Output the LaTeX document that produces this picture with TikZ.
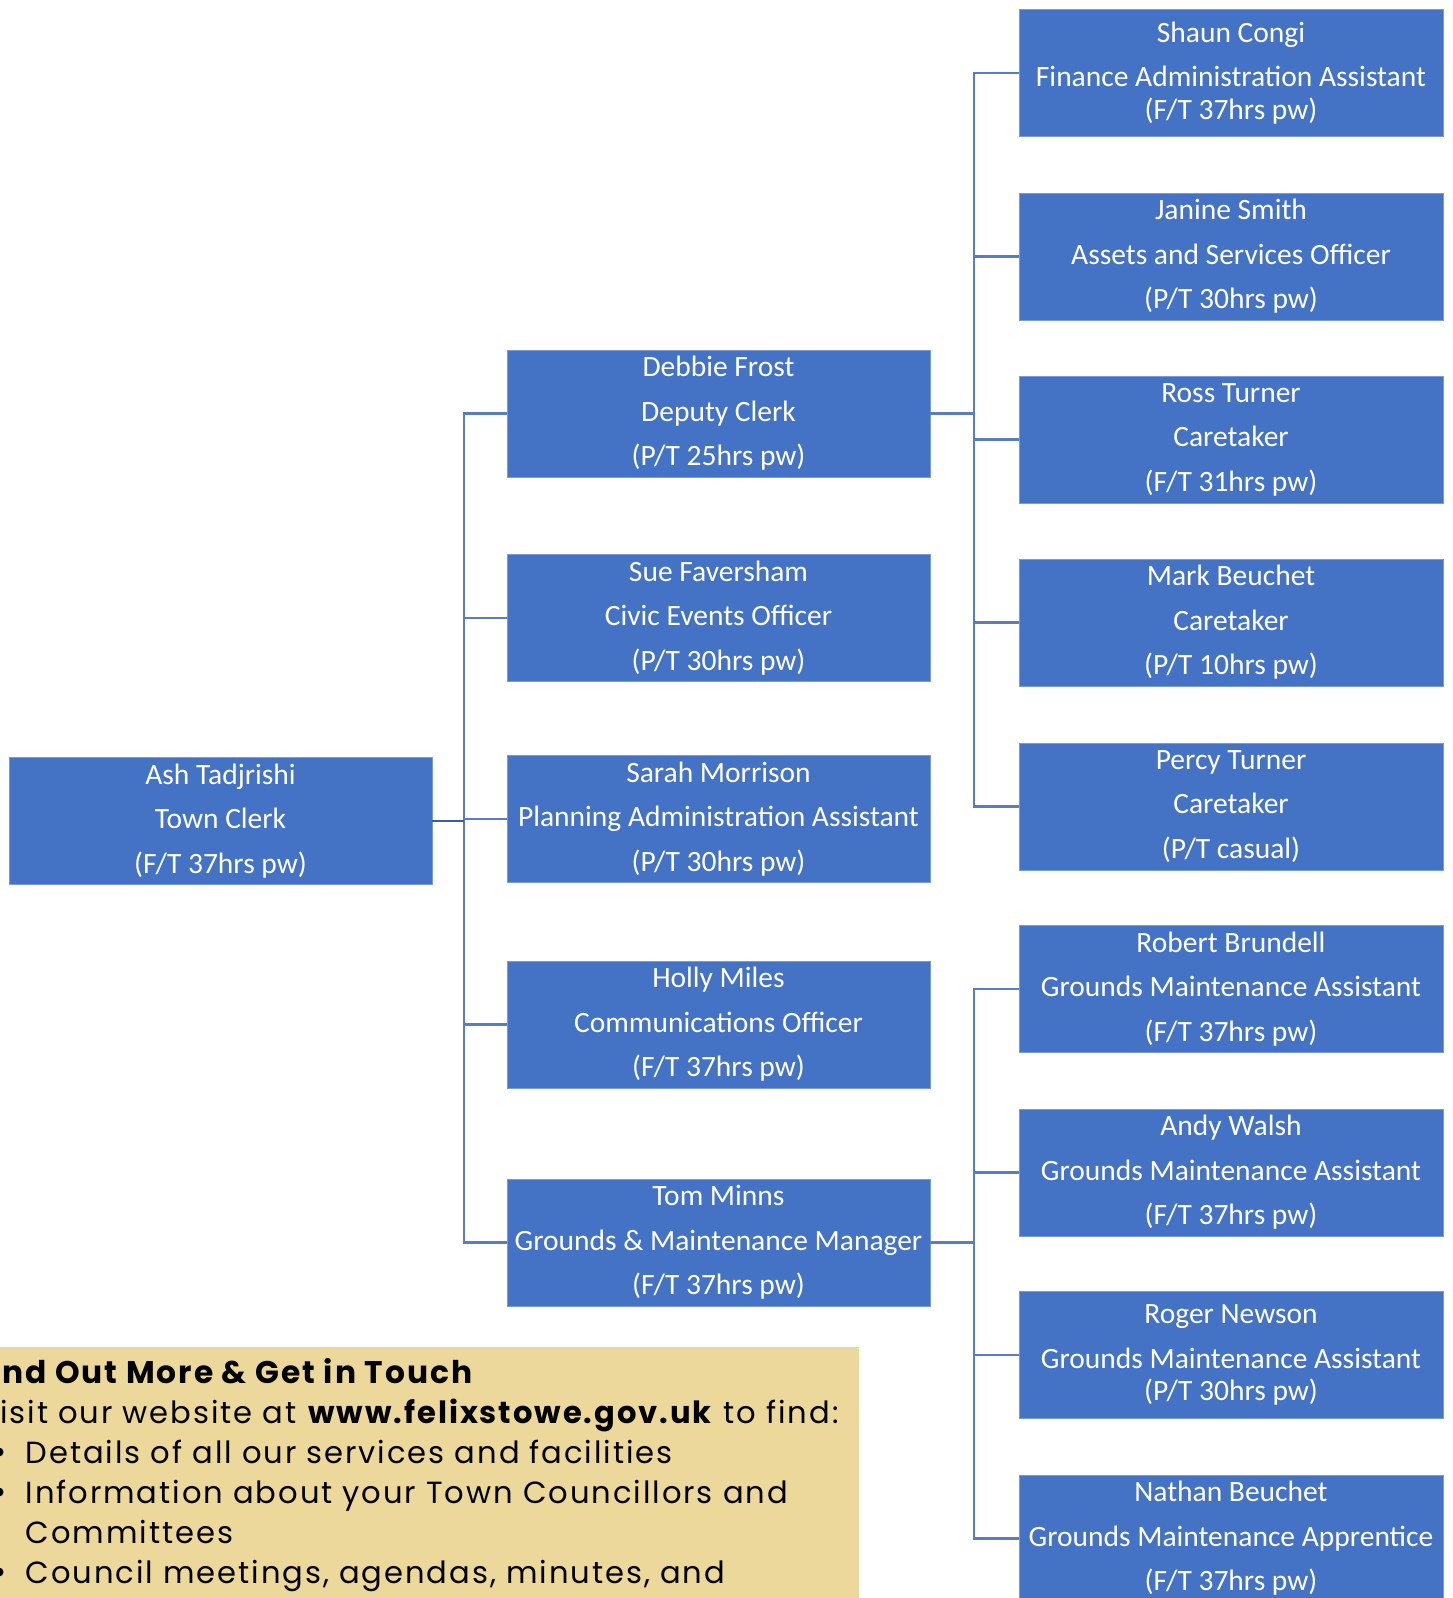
\documentclass[tikz,border=0pt]{standalone}
\usepackage{fontspec}
\setmainfont{Carlito}
\newfontfamily\pop[LetterSpace=6.3]{Poppins}
\definecolor{boxblue}{HTML}{4472C4}
\definecolor{boxedge}{HTML}{7C9BD6}
\definecolor{conn}{HTML}{5A7DC0}
\definecolor{conndark}{HTML}{3B5E9E}
\definecolor{tanbg}{HTML}{EDD89B}
\begin{document}
\begin{tikzpicture}[x=1pt,y=-1pt,
  org/.style={fill=boxblue, draw=boxedge, line width=0.8pt, text=white,
    minimum width=423pt, minimum height=127pt, inner sep=0pt, align=center,
    font=\fontsize{29.5}{44.5}\selectfont},
  link/.style={draw=conn, line width=2.2pt},
  info/.style={anchor=base west, inner sep=0pt, text=black,
    font=\pop\fontsize{30.6}{40}\selectfont}]
\useasboundingbox (0,0) rectangle (1453,1598);
\clip (0,0) rectangle (1453,1598);
\fill[white] (0,0) rectangle (1453,1598);

% level 1
\node[org] (clerk) at (220.5,821) {Ash Tadjrishi\\Town Clerk\\(F/T 37hrs pw)};
% level 2
\node[org] (debbie) at (718.5,413.5) {Debbie Frost\\Deputy Clerk\\(P/T 25hrs pw)};
\node[org] (sue) at (718.5,618) {Sue Faversham\\Civic Events Officer\\(P/T 30hrs pw)};
\node[org] (sarah) at (718.5,819) {Sarah Morrison\\Planning Administration Assistant\\(P/T 30hrs pw)};
\node[org] (holly) at (718.5,1024.5) {Holly Miles\\Communications Officer\\(F/T 37hrs pw)};
\node[org] (tom) at (718.5,1242.5) {Tom Minns\\Grounds \& Maintenance Manager\\(F/T 37hrs pw)};
% level 3
\node[org, minimum width=424pt] (shaun) at (1231,73) {Shaun Congi\\Finance Administration Assistant\\[-12pt](F/T 37hrs pw)};
\node[org, minimum width=424pt] (janine) at (1231,256.5) {Janine Smith\\Assets and Services Officer\\(P/T 30hrs pw)};
\node[org, minimum width=424pt] (ross) at (1231,439.5) {Ross Turner\\Caretaker\\(F/T 31hrs pw)};
\node[org, minimum width=424pt] (mark) at (1231,622.5) {Mark Beuchet\\Caretaker\\(P/T 10hrs pw)};
\node[org, minimum width=424pt] (percy) at (1231,806.5) {Percy Turner\\Caretaker\\(P/T casual)};
\node[org, minimum width=424pt] (robert) at (1231,989) {Robert Brundell\\Grounds Maintenance Assistant\\(F/T 37hrs pw)};
\node[org, minimum width=424pt] (andy) at (1231,1172.5) {Andy Walsh\\Grounds Maintenance Assistant\\(F/T 37hrs pw)};
\node[org, minimum width=424pt] (roger) at (1231,1355) {Roger Newson\\Grounds Maintenance Assistant\\[-12pt](P/T 30hrs pw)};
\node[org, minimum width=424pt] (nathan) at (1231,1538.5) {Nathan Beuchet\\Grounds Maintenance Apprentice\\(F/T 37hrs pw)};

% trunks
\coordinate (ta) at (464,0);
\coordinate (tb) at (974,0);

\foreach \c in {debbie,sue,sarah,holly,tom}
  \draw[link] (clerk.east) -- (clerk.east -| ta) |- (\c.west);
\draw[link, draw=conndark] (clerk.east) -- (clerk.east -| ta);
\foreach \c in {shaun,janine,ross,mark,percy}
  \draw[link] (debbie.east) -- (debbie.east -| tb) |- (\c.west);
\foreach \c in {robert,andy,roger,nathan}
  \draw[link] (tom.east) -- (tom.east -| tb) |- (\c.west);

% info panel
\fill[tanbg] (0,1347) rectangle (859,1610);
\node[info, font=\pop\bfseries\fontsize{31.3}{40}\selectfont] (t1) at (2,1383) {nd Out More \& Get in Touch};
\node[info] (t2) at (0,1423) {isit our website at \textbf{www.felixstowe.gov.uk} to find:};
\node[info] (t3) at (25.5,1463) {Details of all our services and facilities};
\node[info] (t4) at (25.5,1503) {Information about your Town Councillors and};
\node[info] (t5) at (25.5,1543) {Committees};
\node[info] (t6) at (25.5,1583) {Council meetings, agendas, minutes, and};
\fill[black] (-1,1452) circle (4.5);
\fill[black] (-1,1492) circle (4.5);
\fill[black] (-1,1572) circle (4.5);
\end{tikzpicture}
\end{document}
